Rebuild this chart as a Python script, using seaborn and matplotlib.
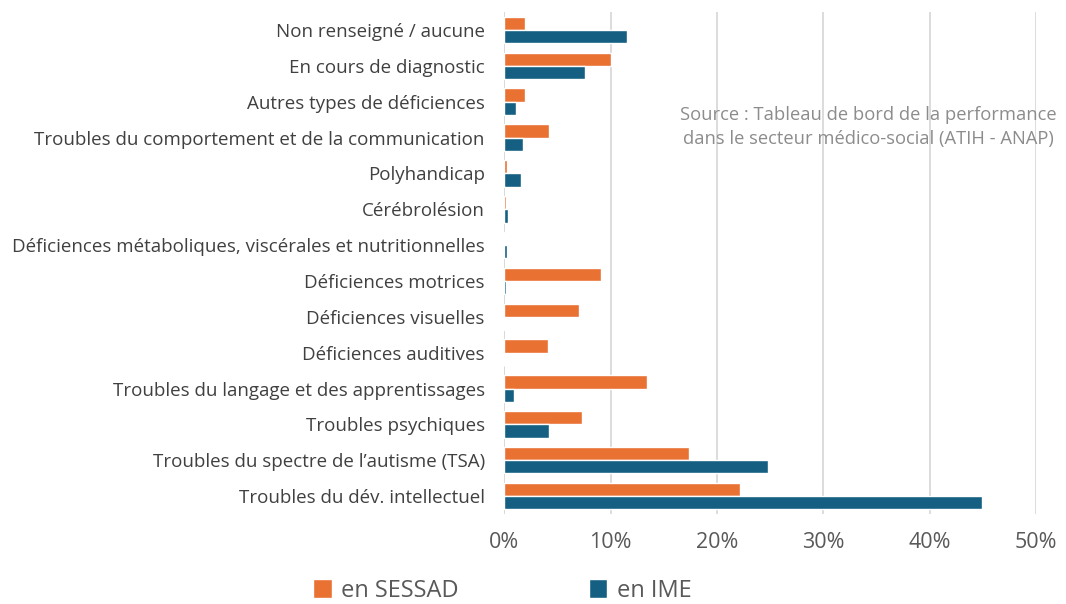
import matplotlib
matplotlib.use("Agg")
import matplotlib.pyplot as plt
from matplotlib.ticker import FuncFormatter
from matplotlib.patches import Patch
import pandas as pd
import seaborn as sns

categories = [
    "Non renseigné / aucune",
    "En cours de diagnostic",
    "Autres types de déficiences",
    "Troubles du comportement et de la communication",
    "Polyhandicap",
    "Cérébrolésion",
    "Déficiences métaboliques, viscérales et nutritionnelles",
    "Déficiences motrices",
    "Déficiences visuelles",
    "Déficiences auditives",
    "Troubles du langage et des apprentissages",
    "Troubles psychiques",
    "Troubles du spectre de l\u2019autisme (TSA)",
    "Troubles du dév. intellectuel",
]
sessad = [2.0, 10.0, 2.0, 4.25, 0.3, 0.2, 0.1, 9.1, 7.0, 4.1, 13.4, 7.3, 17.4, 22.2]
ime = [11.5, 7.6, 1.1, 1.8, 1.55, 0.4, 0.3, 0.2, 0.1, 0.0, 0.95, 4.2, 24.8, 44.9]
series = ["en SESSAD", "en IME"]
colors = ["#E97132", "#156082"]
source_text = "Source : Tableau de bord de la performance\ndans le secteur médico-social (ATIH - ANAP)"

df = pd.DataFrame({
    "cat": categories * 2,
    "val": sessad + ime,
    "serie": [series[0]] * len(categories) + [series[1]] * len(categories),
})

sns.set_theme(style="white")
plt.rcParams["font.family"] = ["Open Sans", "DejaVu Sans"]

fig = plt.figure(figsize=(10.66, 6.04), dpi=100)
ax = fig.add_axes([0.473, 0.149, 0.499, 0.831])

sns.barplot(data=df, x="val", y="cat", hue="serie", order=categories,
            hue_order=series, palette=colors, width=0.74, gap=0,
            saturation=1, orient="h", ax=ax, legend=False)

ax.set_xlim(0, 50)
ax.set_xticks([0, 10, 20, 30, 40, 50])
ax.xaxis.set_major_formatter(FuncFormatter(lambda v, p: f"{v:.0f}%"))
ax.grid(axis="x", color="#d9d9d9", linewidth=1.3)
ax.set_axisbelow(True)
for s in ax.spines.values():
    s.set_visible(False)
ax.axvline(0, color="#d9d9d9", linewidth=1.3, zorder=0)
ax.set_xlabel("")
ax.set_ylabel("")
ax.tick_params(axis="x", labelsize=15.5, colors="#595959", length=0, pad=13)
ax.tick_params(axis="y", labelsize=13.5, colors="#404040", length=0, pad=14)

ax.text(0.685, 0.771, source_text, transform=ax.transAxes, ha="center",
        va="center", fontsize=13.2, color="#8c8c8c", linespacing=1.4)

handles = [Patch(facecolor=c, label=l) for c, l in zip(colors, series)]
fig.legend(handles=handles, loc="center", bbox_to_anchor=(0.471, 0.022),
           ncol=2, frameon=False, fontsize=17, handlelength=0.8,
           handleheight=0.8, handletextpad=0.4, columnspacing=5.5,
           labelcolor="#595959")

fig.savefig("out.png", dpi=100)
